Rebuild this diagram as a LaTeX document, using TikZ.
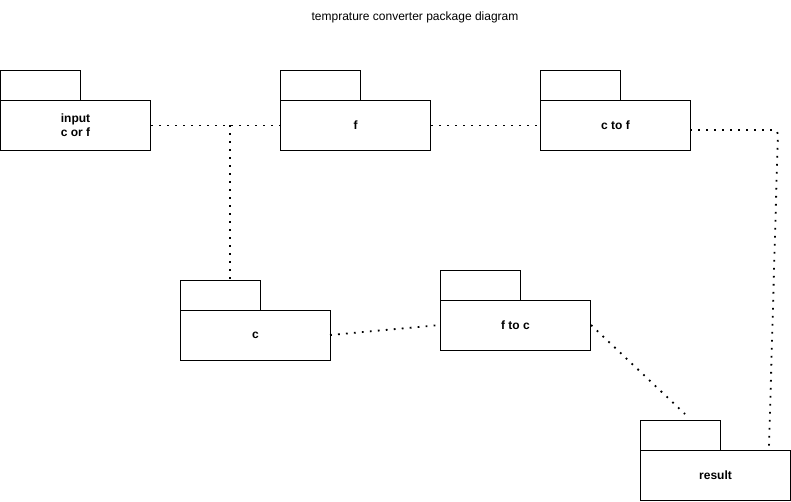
\documentclass[tikz,border=0pt]{standalone}
\usepackage{fontspec}
\setmainfont{Liberation Sans}
\begin{document}
\begin{tikzpicture}[x=1pt,y=-1pt,
  body/.style={draw,line width=1pt,minimum width=150pt,minimum height=50pt,inner sep=0pt,anchor=north west,font=\fontsize{12}{14}\selectfont\bfseries,align=center},
  tab/.style={draw,line width=1pt,minimum width=80pt,minimum height=30pt,inner sep=0pt,anchor=north west},
  dots/.style={line width=1.8pt,dash pattern=on 1.8pt off 6.2pt}]
\useasboundingbox (0,0) rectangle (791,501);
\node[font=\fontsize{12}{14}\selectfont] (title) at (415,17) {temprature converter package diagram};
% packages
\node[tab] (inT) at (0,70) {};
\node[body] (in) at (0,100) {input\\c or f};
\node[tab] (fT) at (280,70) {};
\node[body] (f) at (280,100) {f};
\node[tab] (cfT) at (540,70) {};
\node[body] (cf) at (540,100) {c to f};
\node[tab] (cT) at (180,280) {};
\node[body] (c) at (180,310) {c};
\node[tab] (fcT) at (440,270) {};
\node[body] (fc) at (440,300) {f to c};
\node[tab] (rT) at (640,420) {};
\node[body] (r) at (640,450) {result};
% connectors
\coordinate (j) at (230,125);
\coordinate (cfo) at (690,130);
\coordinate (bend) at (778,130);
\coordinate (rin) at (769,447);
\coordinate (fco) at (591,325);
\coordinate (rtop) at (685,414);
\coordinate (co) at (330,335);
\coordinate (fci) at (440,325);
\draw[dots] (in.east) -- (f.west);
\draw[dots] (j) -- (j |- cT.north);
\draw[dots] (f.east) -- (cf.west);
\draw[dots,rounded corners=4pt] (cfo) -- (bend) -- (rin);
\draw[dots] (co) -- (fci);
\draw[dots] (fco) -- (rtop);
\end{tikzpicture}
\end{document}
